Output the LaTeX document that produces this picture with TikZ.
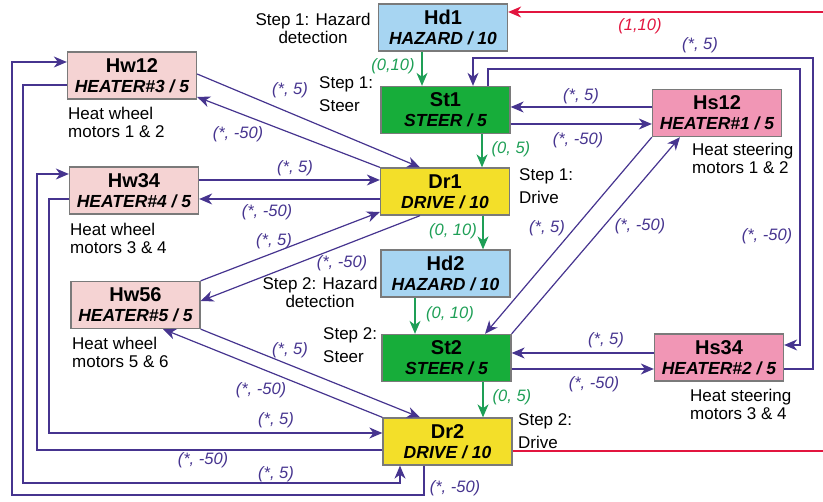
\documentclass[tikz,border=0pt]{standalone}
\usepackage{fontspec}
\setmainfont{Liberation Sans}
\usetikzlibrary{arrows.meta}

\definecolor{hazblue}{HTML}{A7D5F2}
\definecolor{steergreen}{HTML}{17AD3A}
\definecolor{driveyel}{HTML}{F3DF29}
\definecolor{wheelpink}{HTML}{F5D3D3}
\definecolor{steerpink}{HTML}{F196B5}
\definecolor{boxgray}{HTML}{7A7A7A}
\definecolor{purp}{HTML}{46348F}
\definecolor{lgreen}{HTML}{1E9F56}
\definecolor{lred}{HTML}{E2153F}

\newcommand{\boxtxt}[2]{{\fontsize{20}{20}\selectfont\bfseries #1}\\{\bfseries\itshape #2}}

\begin{document}
\begin{tikzpicture}[x=1pt,y=-1pt,
  state/.style={draw=boxgray, line width=1.3pt, minimum width=129pt,
    minimum height=47pt, inner sep=0pt, align=center,
    font=\fontsize{17.5}{20}\selectfont},
  arr/.style={purp, line width=1.2pt, -{Stealth[length=13pt,width=11pt,inset=4pt]}},
  garr/.style={lgreen, line width=1.2pt, -{Stealth[length=13pt,width=11pt,inset=4pt]}},
  lbl/.style={purp, font=\fontsize{16.5}{18}\selectfont\itshape},
  glbl/.style={lgreen, font=\fontsize{16.5}{18}\selectfont\itshape},
  note/.style={align=left, inner sep=0pt, anchor=north west,
    font=\fontsize{17}{18}\selectfont},
  stepnote/.style={note, font=\fontsize{17}{23.5}\selectfont}]
\useasboundingbox (0,0) rectangle (823,502);

%the middle column: hazard, steer and drive for both steps
\node[state, fill=hazblue]    (Hd1) at (443,27.5)  {\boxtxt{Hd1}{HAZARD / 10}};
\node[state, fill=steergreen] (St1) at (445.5,110) {\boxtxt{St1}{STEER / 5}};
\node[state, fill=driveyel]   (Dr1) at (445,191.5) {\boxtxt{Dr1}{DRIVE / 10}};
\node[state, fill=hazblue]    (Hd2) at (445.5,273.5) {\boxtxt{Hd2}{HAZARD / 10}};
\node[state, fill=steergreen] (St2) at (446.5,358) {\boxtxt{St2}{STEER / 5}};
\node[state, fill=driveyel]   (Dr2) at (447.5,441.5) {\boxtxt{Dr2}{DRIVE / 10}};

%heaters on the left (wheels) and on the right (steering)
\node[state, fill=wheelpink] (Hw12) at (132,75.5) {\boxtxt{Hw12}{HEATER\#3 / 5}};
\node[state, fill=wheelpink] (Hw34) at (134,190.5) {\boxtxt{Hw34}{HEATER\#4 / 5}};
\node[state, fill=wheelpink] (Hw56) at (135.5,305) {\boxtxt{Hw56}{HEATER\#5 / 5}};
\node[state, fill=steerpink] (Hs12) at (717,113) {\boxtxt{Hs12}{HEATER\#1 / 5}};
\node[state, fill=steerpink] (Hs34) at (719,357.5) {\boxtxt{Hs34}{HEATER\#2 / 5}};

%captions
\node[note, anchor=north, align=center] (n1) at (313,13) {Step 1: Hazard\\detection};
\node[stepnote] (n2) at (319,76) {Step 1:\\Steer};
\node[stepnote] (n3) at (519,168) {Step 1:\\Drive};
\node[note, anchor=north, align=center] (n4) at (320,277) {Step 2: Hazard\\detection};
\node[stepnote] (n5) at (323,327) {Step 2:\\Steer};
\node[stepnote] (n6) at (518,413) {Step 2:\\Drive};
\node[note] (n7) at (68,107) {Heat wheel\\motors 1 \& 2};
\node[note] (n8) at (70,223) {Heat wheel\\motors 3 \& 4};
\node[note] (n9) at (72,337) {Heat wheel\\motors 5 \& 6};
\node[note] (n10) at (692,143) {Heat steering\\motors 1 \& 2};
\node[note] (n11) at (690,389) {Heat steering\\motors 3 \& 4};

%the way back from Dr2 to Hd1
\coordinate (redin) at (823,12);
\coordinate (redout) at (823,451);
\draw[lred, line width=1.2pt, -{Stealth[length=13pt,width=11pt,inset=4pt]}]
  (redin) -- (Hd1.east |- redin);
\draw[lred, line width=1.2pt] (Dr2.east |- 0,451) -- (redout);
\node[lbl, lred] at (640,26) {(1,10)};

%steps going down
\draw[garr] (Hd1.south -| 422,0) -- (St1.north -| 422,0);
\draw[garr] (St1.south -| 482,0) -- (Dr1.north -| 482,0);
\draw[garr] (Dr1.south -| 483,0) -- (Hd2.north -| 483,0);
\draw[garr] (Hd2.south -| 415,0) -- (St2.north -| 415,0);
\draw[garr] (St2.south -| 483,0) -- (Dr2.north -| 483,0);
\node[glbl] at (393,66) {(0,10)};
\node[glbl] at (511,149) {(0, 5)};
\node[glbl] at (453,231) {(0, 10)};
\node[glbl] at (450,314) {(0, 10)};
\node[glbl] at (512,397) {(0, 5)};

%steering heaters
\draw[arr] (Hs12.west |- 0,107) -- (St1.east |- 0,107);
\draw[arr] (St1.east |- 0,124) -- (Hs12.west |- 0,124);
\draw[arr] (Hs34.west |- 0,353) -- (St2.east |- 0,353);
\draw[arr] (St2.east |- 0,369) -- (Hs34.west |- 0,369);
\draw[arr] (Hs12.south west) -- (St2.north -| 485,0);
\draw[arr] (St2.north east) -- (Hs12.south -| 680,0);
\draw[arr] (Hs34.east |- 0,369) -| (813,58) -| (St1.north -| 473,0);
\draw[arr] (St1.north -| 488,0) |- (800,69) |- (Hs34.east |- 0,345);
\node[lbl] at (581,96) {(*, 5)};
\node[lbl] at (578,140) {(*, -50)};
\node[lbl] at (606,340) {(*, 5)};
\node[lbl] at (594,384) {(*, -50)};
\node[lbl] at (547,228) {(*, 5)};
\node[lbl] at (640,226) {(*, -50)};
\node[lbl] at (700,45) {(*, 5)};
\node[lbl] at (767,236) {(*, -50)};

%wheel heaters
\draw[arr] (Hw12.east |- 0,74) -- (Dr1.north -| 420,0);
\draw[arr] (Dr1.north west) -- (Hw12.east |- 0,97);
\draw[arr] (Hw34.east |- 0,180) -- (Dr1.west |- 0,180);
\draw[arr] (Dr1.west |- 0,199) -- (Hw34.east |- 0,199);
\draw[arr] (Hw56.north east) -- (Dr1.west |- 0,212);
\draw[arr] (Dr1.south -| 420,0) -- (Hw56.east |- 0,301);
\draw[arr] (Hw56.south east) -- (Dr2.north -| 420,0);
\draw[arr] (Dr2.north west) -- (Hw56.south -| 163,0);
\node[lbl] at (290,90) {(*, 5)};
\node[lbl] at (238,134) {(*, -50)};
\node[lbl] at (295,168) {(*, 5)};
\node[lbl] at (267,212) {(*, -50)};
\node[lbl] at (274,241) {(*, 5)};
\node[lbl] at (342,263) {(*, -50)};
\node[lbl] at (290,350) {(*, 5)};
\node[lbl] at (261,390) {(*, -50)};

%loops round the left side
\draw[arr] (Hw34.west |- 0,199) -| (49,433) -- (Dr2.west |- 0,433);
\draw[arr] (Dr2.west |- 0,450) -| (37,174) -- (Hw34.west |- 0,174);
\draw[arr] (Hw12.west |- 0,85) -| (23,483) -| (Dr2.south -| 400,0);
\draw[arr] (Dr2.south -| 424,0) |- (12,495) |- (Hw12.west |- 0,62);
\node[lbl] at (276,420) {(*, 5)};
\node[lbl] at (203,460) {(*, -50)};
\node[lbl] at (276,474) {(*, 5)};
\node[lbl] at (455,488) {(*, -50)};
\end{tikzpicture}
\end{document}
